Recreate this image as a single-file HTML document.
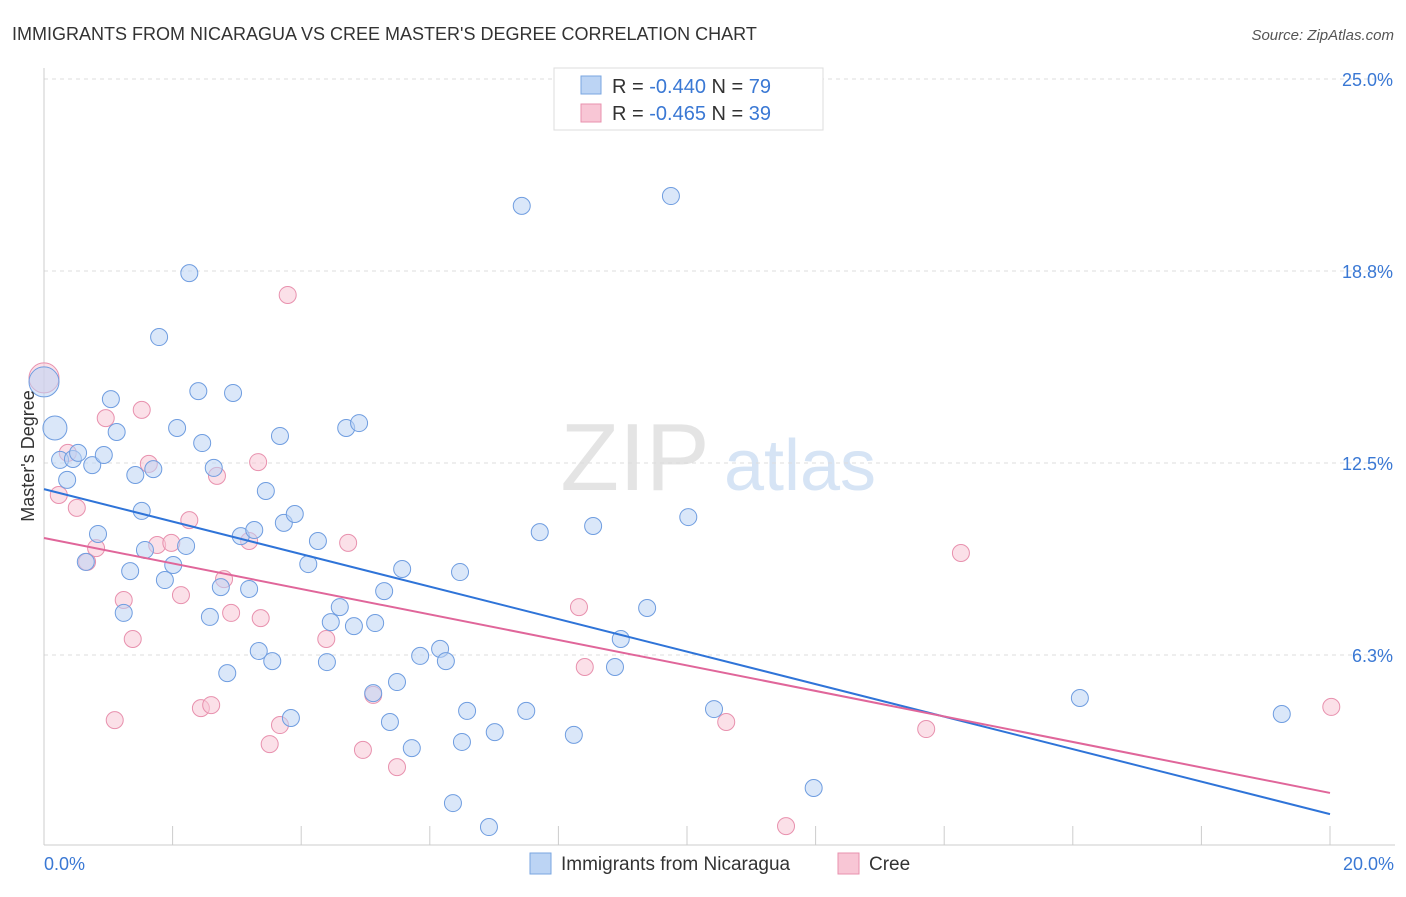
<!DOCTYPE html>
<html><head><meta charset="utf-8"><style>
body{margin:0;background:#fff;font-family:"Liberation Sans",sans-serif}
svg text{font-family:"Liberation Sans",sans-serif}
</style></head><body>
<svg id="chart" width="1406" height="892" xmlns="http://www.w3.org/2000/svg">
<text x="12" y="40" font-size="18" fill="#333">IMMIGRANTS FROM NICARAGUA VS CREE MASTER'S DEGREE CORRELATION CHART</text>
<text x="1394" y="40" font-size="15" fill="#555" text-anchor="end" font-style="italic">Source: ZipAtlas.com</text>
<g>
<text x="635" y="490" font-size="96" fill="#e4e4e4" text-anchor="middle" font-family="Liberation Serif,serif">ZIP</text>
<text x="800" y="490" font-size="72" fill="#d6e4f5" text-anchor="middle">atlas</text>
</g>
<g id="grid"></g><g id="axes"></g><g id="marks"></g>
<text transform="translate(34,456) rotate(-90)" font-size="18" fill="#333" text-anchor="middle">Master's Degree</text>
<g>
<rect x="554" y="68" width="269" height="62" fill="#fff" stroke="#ddd"/>
<rect x="581" y="76" width="20" height="18" fill="#bcd4f4" stroke="#7aa6e0"/>
<rect x="581" y="104" width="20" height="18" fill="#f8c6d5" stroke="#e891ae"/>
<text x="612" y="93" font-size="20" fill="#333">R = <tspan fill="#3a78d4">-0.440</tspan>   N = <tspan fill="#3a78d4">79</tspan></text>
<text x="612" y="120" font-size="20" fill="#333">R = <tspan fill="#3a78d4">-0.465</tspan>   N = <tspan fill="#3a78d4">39</tspan></text>
</g>
<g>
<rect x="530" y="853" width="21" height="21" fill="#bcd4f4" stroke="#7aa6e0"/>
<text x="561" y="870" font-size="19" fill="#333">Immigrants from Nicaragua</text>
<rect x="838" y="853" width="21" height="21" fill="#f8c6d5" stroke="#e891ae"/>
<text x="869" y="870" font-size="19" fill="#333">Cree</text>
</g>
</svg>
<script>
const yTicks=[6.25,12.5,18.75,25];
const yTickLabels=["6.3%","12.5%","18.8%","25.0%"];
const xTicks=[0,2,4,6,8,10,12,14,16,18,20];
const blueX=[0,0.17,0.25,0.45,0.53,0.36,0.75,0.93,1.04,1.13,0.84,0.65,1.34,1.24,1.42,1.52,1.57,1.70,1.79,1.88,2.01,2.07,2.21,2.26,2.40,2.46,2.58,2.64,2.75,2.85,2.94,3.06,3.19,3.27,3.34,3.45,3.55,3.67,3.73,3.84,3.90,4.11,4.26,4.40,4.46,4.60,4.70,4.82,4.90,5.12,5.15,5.29,5.38,5.49,5.57,5.72,5.85,6.16,6.25,6.36,6.47,6.50,6.58,6.92,7.01,7.43,7.50,7.71,8.24,8.54,8.88,8.97,9.38,9.75,10.02,10.42,11.97,16.11,19.25];
const blueY=[15.14,13.64,12.60,12.63,12.83,11.95,12.43,12.76,14.58,13.51,10.19,9.28,8.98,7.62,12.11,10.94,9.67,12.30,16.60,8.69,9.18,13.64,9.80,18.68,14.84,13.15,7.49,12.34,8.46,5.66,14.78,10.12,8.40,10.32,6.38,11.59,6.05,13.38,10.55,4.20,10.84,9.21,9.96,6.02,7.32,7.81,13.64,7.19,13.80,5.01,7.29,8.33,4.07,5.37,9.05,3.22,6.22,6.45,6.05,1.43,8.95,3.42,4.43,0.65,3.74,20.87,4.43,10.25,3.65,10.45,5.86,6.77,7.78,21.19,10.74,4.49,1.92,4.85,4.33];
const pinkX=[0,0.23,0.37,0.51,0.67,0.81,0.96,1.10,1.24,1.38,1.52,1.63,1.76,1.98,2.13,2.26,2.44,2.60,2.69,2.80,2.91,3.19,3.33,3.37,3.51,3.67,3.79,4.39,4.73,4.96,5.12,5.49,8.32,8.41,10.61,11.54,13.72,14.26,20.02];
const pinkY=[15.27,11.46,12.83,11.04,9.28,9.73,13.96,4.13,8.04,6.77,14.23,12.47,9.83,9.90,8.20,10.64,4.52,4.62,12.08,8.72,7.62,9.96,12.53,7.45,3.35,3.97,17.97,6.77,9.90,3.16,4.95,2.60,7.81,5.86,4.07,0.68,3.84,9.57,4.56];
const blueTrend=[11.65,1.07];
const pinkTrend=[10.06,1.76];
const NS="http://www.w3.org/2000/svg";
const sx=v=>44+v*64.3, sy=v=>847-v*30.72;
function mk(t,a,p){const e=document.createElementNS(NS,t);for(const k in a)e.setAttribute(k,a[k]);p.appendChild(e);return e;}
const grid=document.getElementById('grid'),axes=document.getElementById('axes'),marks=document.getElementById('marks');
yTicks.forEach((v,i)=>{
 const l=mk('line',{x1:44,x2:1395,y1:sy(v),y2:sy(v),stroke:'#ddd','stroke-dasharray':'4,4'},grid);
 
 
 const t=mk('text',{x:1393,y:sy(v)+7,'font-size':18,fill:'#3a78d4','text-anchor':'end'},axes);
 t.textContent=yTickLabels[i];
 
 
});
const tl=mk('line',{x1:44,x2:1395,y1:sy(25),y2:sy(25),stroke:'#ddd','stroke-dasharray':'4,4'},grid);
mk('line',{x1:44,x2:44,y1:68,y2:845,stroke:'#ccc'},axes);
mk('line',{x1:44,x2:1395,y1:845,y2:845,stroke:'#ccc'},axes);
xTicks.forEach(v=>{
 const l=mk('line',{x1:sx(v),x2:sx(v),y1:826,y2:845,stroke:'#ccc'},axes);
 
 
});
const x0=mk('text',{x:44,y:870,'font-size':18,fill:'#3a78d4'},axes);x0.textContent='0.0%';

const x1=mk('text',{x:1394,y:870,'font-size':18,fill:'#3a78d4','text-anchor':'end'},axes);x1.textContent='20.0%';

function pts(X,Y,fill,stroke,name){
 X.forEach((x,i)=>{
  const r=i===0?15:(name==='blue-point'&&i===1?12:8.5);
  const c=mk('circle',{cx:sx(x),cy:sy(Y[i]),r:r,fill:fill,'fill-opacity':0.55,stroke:stroke,'stroke-width':1},marks);
  
  
 });
}
pts(pinkX,pinkY,'#f8c6d5','#e891ae','pink-point');
pts(blueX,blueY,'#bcd4f4','#6f9de0','blue-point');
const bl=mk('line',{x1:sx(0),y1:sy(blueTrend[0]),x2:sx(20),y2:sy(blueTrend[1]),stroke:'#2f74d8','stroke-width':2},marks);


const pl=mk('line',{x1:sx(0),y1:sy(pinkTrend[0]),x2:sx(20),y2:sy(pinkTrend[1]),stroke:'#e0669a','stroke-width':2},marks);


</script>
</body></html>
